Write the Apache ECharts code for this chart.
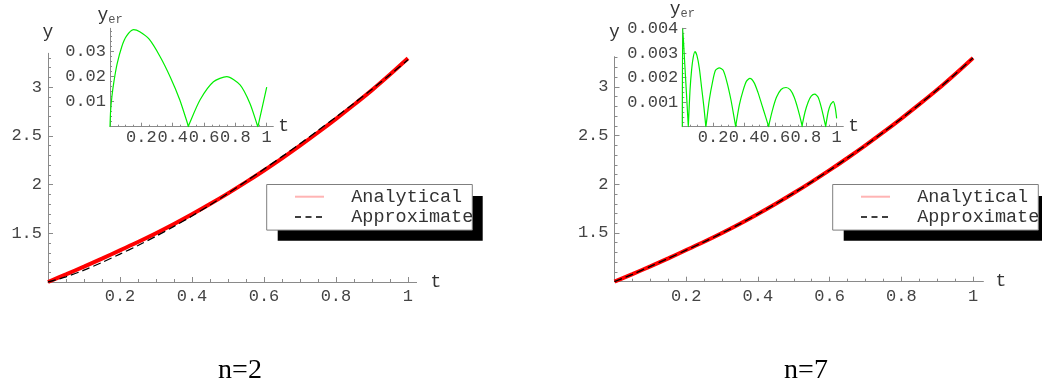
<!DOCTYPE html>
<html>
<head>
<meta charset="utf-8">
<script src="https://cdn.jsdelivr.net/npm/echarts@6/dist/echarts.min.js"></script>
<style>
  html, body { margin: 0; padding: 0; background: #fff; }
  #chart { width: 1042px; height: 388px; }
</style>
</head>
<body>
<div id="chart"></div>
<script>
// Fonts
const MONO = '"Liberation Mono", "Courier New", monospace';
const SERIF = '"Liberation Serif", "Times New Roman", serif';

// Sample times of the solution curves
const tValues = [0, 0.05, 0.1, 0.15, 0.2, 0.25, 0.3, 0.35, 0.4, 0.45, 0.5,
                 0.55, 0.6, 0.65, 0.7, 0.75, 0.8, 0.85, 0.9, 0.95, 1];
// Analytical solution y(t)
const analytical = [1.000, 1.078, 1.158, 1.240, 1.325, 1.410, 1.500, 1.595, 1.695, 1.800, 1.910,
                    2.025, 2.145, 2.270, 2.400, 2.535, 2.675, 2.820, 2.970, 3.130, 3.297];
// Approximate solution, n = 2
const approximateN2 = [1.000, 1.053, 1.122, 1.201, 1.287, 1.375, 1.470, 1.571, 1.678, 1.790, 1.910,
                       2.034, 2.159, 2.287, 2.419, 2.555, 2.693, 2.835, 2.979, 3.128, 3.281];
// Approximate solution, n = 7
const approximateN7 = [1.000, 1.076, 1.157, 1.239, 1.324, 1.409, 1.499, 1.594, 1.694, 1.800, 1.910,
                       2.025, 2.145, 2.270, 2.400, 2.535, 2.675, 2.820, 2.970, 3.130, 3.297];

// Absolute error, n = 2
const errTimesN2 = [0, 0.004, 0.012, 0.025, 0.045, 0.075, 0.105, 0.15, 0.19, 0.25, 0.32, 0.385,
                    0.445, 0.495, 0.5, 0.505, 0.575, 0.66, 0.745, 0.83, 0.893, 0.938, 0.943, 0.948, 1];
const errorN2 = [0, 0.0065, 0.012, 0.018, 0.025, 0.032, 0.0362, 0.0388, 0.038, 0.035, 0.028, 0.0198,
                 0.0108, 0.0012, 0, 0.001, 0.0108, 0.018, 0.02, 0.0167, 0.0093, 0.001, 0, 0.0012, 0.0158];

// Absolute error, n = 7
const errTimesN7 = [0, 0.003, 0.012, 0.022, 0.031, 0.038, 0.039,
                    0.041, 0.05, 0.06, 0.07, 0.082, 0.095, 0.11, 0.125, 0.14, 0.151, 0.153,
                    0.155, 0.175, 0.195, 0.215, 0.24, 0.265, 0.29, 0.315, 0.335, 0.345, 0.346,
                    0.348, 0.37, 0.395, 0.415, 0.438, 0.465, 0.49, 0.515, 0.54, 0.558, 0.56,
                    0.562, 0.585, 0.61, 0.64, 0.672, 0.7, 0.725, 0.75, 0.774, 0.776,
                    0.778, 0.795, 0.815, 0.835, 0.858, 0.88, 0.9, 0.915, 0.928, 0.929,
                    0.931, 0.945, 0.96, 0.978, 0.99, 1];
const errorN7 = [0, 0.0040, 0.0030, 0.0019, 0.0009, 0.0001, 0,
                 0.0003, 0.0015, 0.0023, 0.0028, 0.00306, 0.0029, 0.0024, 0.0016, 0.0008, 0.0001, 0,
                 0.0001, 0.0011, 0.0018, 0.0023, 0.0024, 0.0023, 0.0018, 0.0011, 0.0004, 0.00003, 0,
                 0.0001, 0.0009, 0.0015, 0.00185, 0.00197, 0.0018, 0.0014, 0.0009, 0.0004, 0.00003, 0,
                 0.0001, 0.0007, 0.0012, 0.00152, 0.0016, 0.0015, 0.0012, 0.0007, 0.0001, 0,
                 0.0001, 0.0006, 0.001, 0.00125, 0.00133, 0.0012, 0.0008, 0.0004, 0.00003, 0,
                 0.0001, 0.0006, 0.0009, 0.00102, 0.0008, 0.00034];

// Tick labels
const mainXTicks = [0.2, 0.4, 0.6, 0.8, 1];
const mainYTicks = [1.5, 2, 2.5, 3];
const insetXTicks = [0.2, 0.4, 0.6, 0.8, 1];
const insetYTicksN2 = [0.01, 0.02, 0.03];
const insetYTicksN7 = [0.001, 0.002, 0.003, 0.004];
const legendNames = ['Analytical', 'Approximate'];
const captions = ['n=2', 'n=7'];

// Minor tick positions between the labelled ticks
function minorTicks(step, from, to, majors) {
  const out = [];
  for (let k = Math.round(from / step); k * step <= to + 1e-9; k++) {
    const v = +(k * step).toFixed(7);
    if (!majors.some(m => Math.abs(m - v) < 1e-9)) out.push(v);
  }
  return out;
}

const zip = (xs, ys) => xs.map((x, i) => [x, ys[i]]);

const AXIS_GRAY = '#8a8a8a';
const LABEL_GRAY = '#444';

// One labelled axis plus one axis carrying only the short minor ticks
function axisPair(dim, gridIndex, range, major, minor, o) {
  const common = {
    type: 'value', gridIndex, min: range[0], max: range[1],
    position: dim === 'x' ? 'bottom' : 'left', offset: 0,
    splitLine: { show: false }, scale: true
  };
  const labelled = Object.assign({}, common, {
    axisLine: { show: true, onZero: false, lineStyle: { color: AXIS_GRAY, width: 1 } },
    axisTick: { show: true, inside: true, length: o.majorLen, customValues: major,
                lineStyle: { color: AXIS_GRAY, width: 1 } },
    axisLabel: { show: true, customValues: major, margin: o.margin,
                 fontFamily: MONO, fontSize: 17, color: LABEL_GRAY },
    name: o.name, nameLocation: 'end', nameGap: o.nameGap,
    nameTextStyle: o.nameStyle
  });
  const minorAxis = Object.assign({}, common, {
    axisLine: { show: false, onZero: false },
    axisTick: { show: true, inside: true, length: o.minorLen, customValues: minor,
                lineStyle: { color: AXIS_GRAY, width: 1 } },
    axisLabel: { show: false }
  });
  return [labelled, minorAxis];
}

const plainName = { fontFamily: MONO, fontSize: 18, color: '#333' };
const subName = {
  rich: {
    y: { fontFamily: MONO, fontSize: 18, color: '#333', lineHeight: 18, verticalAlign: 'top' },
    s: { fontFamily: MONO, fontSize: 12, color: '#555', lineHeight: 12, verticalAlign: 'top',
         padding: [8, 0, 0, 0] }
  }
};

// Plot areas: main n=2, inset n=2, main n=7, inset n=7
const grids = [
  { left: 48, top: 53.3, width: 368.6, height: 228.7 },
  { left: 110, top: 28.3, width: 163.3, height: 98.4 },
  { left: 614.5, top: 56.7, width: 368.9, height: 225 },
  { left: 682.3, top: 28.3, width: 161, height: 98.4 }
];

const xAxes = [].concat(
  axisPair('x', 0, [0, 1.024], mainXTicks, minorTicks(0.05, 0.05, 1, mainXTicks),
           { majorLen: 5, minorLen: 3, margin: 6, name: 't', nameGap: 14, nameStyle: plainName }),
  axisPair('x', 1, [0, 1.042], insetXTicks, minorTicks(0.05, 0.05, 1, insetXTicks),
           { majorLen: 4, minorLen: 2, margin: 2, name: 't', nameGap: 5, nameStyle: plainName }),
  axisPair('x', 2, [0, 1.029], mainXTicks, minorTicks(0.05, 0.05, 1, mainXTicks),
           { majorLen: 5, minorLen: 3, margin: 6, name: 't', nameGap: 12, nameStyle: plainName }),
  axisPair('x', 3, [0, 1.043], insetXTicks, minorTicks(0.05, 0.05, 1, insetXTicks),
           { majorLen: 4, minorLen: 2, margin: 2, name: 't', nameGap: 5, nameStyle: plainName })
);

const yAxes = [].concat(
  axisPair('y', 0, [1, 3.348], mainYTicks, minorTicks(0.1, 1.1, 3.3, mainYTicks),
           { majorLen: 5, minorLen: 3, margin: 6, name: 'y', nameGap: 12, nameStyle: plainName }),
  axisPair('y', 1, [0, 0.03936], insetYTicksN2, minorTicks(0.002, 0.002, 0.038, insetYTicksN2),
           { majorLen: 4, minorLen: 2, margin: 4, name: '{y|y}{s|er}', nameGap: 4, nameStyle: subName }),
  axisPair('y', 2, [1, 3.31], mainYTicks, minorTicks(0.1, 1.1, 3.3, mainYTicks),
           { majorLen: 5, minorLen: 3, margin: 6, name: 'y', nameGap: 15, nameStyle: plainName }),
  axisPair('y', 3, [0, 0.004016], insetYTicksN7, minorTicks(0.0002, 0.0002, 0.004, insetYTicksN7),
           { majorLen: 4, minorLen: 2, margin: 4, name: '{y|y}{s|er}', nameGap: 4, nameStyle: subName })
);

function solutionSeries(axisIdx, approx) {
  return [
    { type: 'line', name: legendNames[0], xAxisIndex: axisIdx, yAxisIndex: axisIdx,
      data: zip(tValues, analytical), symbol: 'none', smooth: 0.3,
      itemStyle: { color: '#ff0000' }, lineStyle: { color: '#ff0000', width: 4 }, z: 2 },
    { type: 'line', name: legendNames[1], xAxisIndex: axisIdx, yAxisIndex: axisIdx,
      data: zip(tValues, approx), symbol: 'none', smooth: 0.3,
      itemStyle: { color: '#000' }, lineStyle: { color: '#000', width: 1.3, type: [8, 4] }, z: 3 }
  ];
}

function errorSeries(axisIdx, times, values) {
  return { type: 'line', name: 'error', xAxisIndex: axisIdx, yAxisIndex: axisIdx,
           data: zip(times, values), symbol: 'none', smooth: 0.25, clip: false,
           lineStyle: { color: '#00ee00', width: 1.2 }, z: 4 };
}

// Legend entries; the framed box behind them is drawn as graphic rectangles
function legendItems(left) {
  return {
    left, top: 184.3, orient: 'vertical', selectedMode: false, z: 10,
    padding: [2.4, 0, 3, 27.3], itemWidth: 29, itemHeight: 20, itemGap: 0.3,
    backgroundColor: 'transparent', borderWidth: 0,
    formatter: name => '  ' + name,
    textStyle: { fontFamily: MONO, fontSize: 18.5, color: '#333', lineHeight: 20 },
    data: [
      { name: legendNames[0], lineStyle: { color: '#ffb4b4', width: 2 },
        itemStyle: { color: 'rgba(0,0,0,0)', borderWidth: 0 } },
      { name: legendNames[1], lineStyle: { color: '#000', width: 1.3, type: [6, 4.5] },
        itemStyle: { color: 'rgba(0,0,0,0)', borderWidth: 0 } }
    ]
  };
}

function legendFrame(left) {
  return [
    { type: 'rect', z: 5, silent: true,
      shape: { x: left + 11.5, y: 196, width: 205, height: 44.7 },
      style: { fill: '#000' } },
    { type: 'rect', z: 6, silent: true,
      shape: { x: left + 0.5, y: 184.5, width: 205.6, height: 45.6 },
      style: { fill: '#fff', stroke: '#7f7f7f', lineWidth: 1 } }
  ];
}

const chart = echarts.init(document.getElementById('chart'), null, { renderer: 'canvas' });
chart.setOption({
  animation: false,
  backgroundColor: '#fff',
  grid: grids,
  xAxis: xAxes,
  yAxis: yAxes,
  legend: [legendItems(266.7), legendItems(832.7)],
  series: [].concat(
    solutionSeries(0, approximateN2),
    [errorSeries(2, errTimesN2, errorN2)],
    solutionSeries(4, approximateN7),
    [errorSeries(6, errTimesN7, errorN7)]
  ),
  graphic: [].concat(
    legendFrame(266.2),
    legendFrame(832.2),
    captions.map((text, i) => ({
      type: 'text', x: i === 0 ? 240 : 806, y: 371, z: 6,
      style: { text, fontFamily: SERIF, fontSize: 28, fill: '#000', align: 'center', verticalAlign: 'middle' }
    }))
  )
});
</script>
</body>
</html>
